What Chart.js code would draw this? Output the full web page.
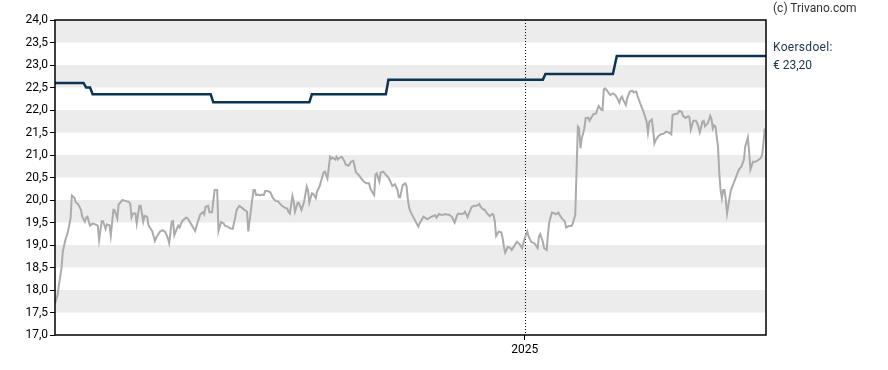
<!DOCTYPE html>
<html>
<head>
<meta charset="utf-8">
<script src="https://cdn.jsdelivr.net/npm/chart.js@4.4.0/dist/chart.umd.min.js"></script>
<style>
    body { margin: 0; background: #fff; }
    #wrap { position: relative; width: 888px; height: 370px; }
    .zijtekst { position: absolute; left: 773px; font: 12px Roboto, sans-serif; color: #333; white-space: nowrap; }
</style>
</head>
<body>
<div id="wrap">
    <canvas id="myChart"></canvas>
    <div class="zijtekst" style="top:1px">(c) Trivano.com</div>
    <div class="zijtekst" style="top:40px;color:#22384d;letter-spacing:0.3px">Koersdoel:</div>
    <div class="zijtekst" style="top:58px;color:#22384d">€ 23,20</div>
</div>
<script>
    // dagen sinds begin van de grafiek
    const koersDagen = [
        0, 2, 3, 5, 6, 8, 10, 12, 13, 15, 16, 18, 20, 21, 23, 24, 25, 27, 29, 31, 33, 34, 36, 37, 39, 40, 42, 43, 45, 46,
        48, 49, 52, 54, 57, 58, 59, 60, 62, 63, 65, 66, 68, 69, 71, 72, 75, 77, 78, 81, 83, 85, 87, 88, 90, 91, 92, 94, 95, 96,
        98, 101, 102, 104, 106, 108, 110, 112, 114, 115, 116, 118, 119, 121, 123, 125, 126, 128, 130, 131, 133, 135, 137, 139, 140, 142, 144, 146, 148, 149,
        151, 153, 154, 155, 157, 158, 160, 161, 162, 164, 166, 168, 170, 172, 173, 175, 177, 179, 180,
        181, 183, 184, 185, 187, 188, 190, 192, 194, 195, 196, 198, 199, 201, 202, 204, 205, 207, 208, 210, 212, 213, 214, 216, 217, 218, 219, 221, 223, 224,
        226, 227, 228, 230, 231, 232, 234, 236, 238, 240, 242, 243, 245, 246, 247, 248, 250, 251, 253, 255, 257, 258, 260, 262, 264, 265, 266, 268, 270, 271, 272,
        273, 274, 276, 278, 280, 281, 284, 285, 287, 289, 291, 293, 294, 296, 297, 299, 301, 303, 304, 306, 308, 310, 311, 313, 315, 316, 318, 319, 321, 323,
        325, 327, 328, 330, 331, 333, 335, 337, 338, 339, 340, 342, 344, 345, 346, 347, 349, 351, 352, 354, 356, 358, 359, 360, 362,
        364, 365, 367, 369, 370, 372, 373, 374, 376, 377, 379, 380, 381, 383, 385, 386, 388, 389, 391, 393, 394, 396, 398, 399, 401, 402, 403, 404, 405, 406,
        408, 409, 411, 412, 414, 415, 417, 418, 419, 421, 422, 423, 424, 426, 428, 429, 430, 432, 433, 435, 436, 437, 438, 440, 441, 443, 445, 446, 448, 449, 451,
        454, 456, 457, 458, 460, 461, 462, 463, 465, 467, 469, 471, 473, 475, 476, 478, 480, 481, 483, 484, 486, 488, 489, 490, 492, 494, 495, 496, 497, 499,
        500, 501, 503, 504, 505, 506, 507, 508, 509, 511, 512, 513, 514, 515, 516, 517, 518, 520, 521, 523, 525, 527, 529, 531, 532, 534, 535, 536, 538, 540,
        542, 544, 545, 546, 547
    ];
    const koersen = [
        17.70, 17.89, 18.11, 18.48, 18.85, 19.11, 19.30, 19.59, 20.10, 20.05, 19.95, 19.90, 19.78, 19.63, 19.52, 19.61, 19.63, 19.43, 19.48, 19.46,
        19.43, 19.11, 19.53, 19.53, 19.36, 19.46, 19.44, 19.21, 19.78, 19.77, 19.59, 19.90, 20.00, 19.98, 19.96, 19.92, 19.62, 19.70, 19.70, 19.48,
        19.87, 19.87, 19.52, 19.65, 19.63, 19.44, 19.30, 19.09, 19.16, 19.30, 19.33, 19.29, 19.15, 19.04, 19.52, 19.53, 19.22, 19.37, 19.43, 19.39,
        19.53, 19.61, 19.60, 19.51, 19.41, 19.31, 19.51, 19.68, 19.73, 19.68, 19.85, 19.87, 19.73, 19.73, 20.22, 20.22, 19.31, 19.51, 19.48, 19.43,
        19.41, 19.37, 19.36, 19.63, 19.78, 19.87, 19.83, 19.78, 19.74, 19.30, 19.78, 20.22, 20.22, 20.11, 20.12, 20.10, 20.12, 20.11, 20.20, 20.20,
        20.17, 20.04, 19.98, 19.97, 19.93, 19.87, 19.83, 19.81, 19.73,
        19.70, 20.09, 19.96, 19.74, 19.94, 19.93, 19.78, 19.96, 20.30, 20.22, 19.94, 20.15, 20.14, 20.04, 20.19, 20.31, 20.41, 20.61, 20.63, 20.48,
        20.96, 20.92, 20.94, 20.90, 20.96, 20.90, 20.93, 20.96, 20.87, 20.79, 20.76, 20.79, 20.85, 20.87, 20.74, 20.61, 20.56, 20.48, 20.41, 20.37,
        20.37, 20.26, 20.15, 20.11, 20.56, 20.59, 20.41, 20.61, 20.63, 20.56, 20.50, 20.44, 20.31, 20.35, 20.22, 20.06, 20.06, 20.33, 20.37, 20.30, 20.00,
        19.82, 19.74, 19.63, 19.52, 19.41, 19.48, 19.63, 19.61, 19.57, 19.61, 19.64, 19.66, 19.61, 19.69, 19.67, 19.67, 19.69, 19.67, 19.67, 19.62,
        19.50, 19.67, 19.70, 19.69, 19.70, 19.74, 19.62, 19.70, 19.84, 19.87, 19.87, 19.91, 19.85, 19.79, 19.79, 19.70, 19.64, 19.69, 19.67, 19.52,
        19.20, 19.30, 19.28, 19.15, 18.96, 18.83, 18.96, 18.93, 18.89, 18.98, 19.07, 19.02, 18.98, 18.93, 19.15,
        19.30, 19.19, 19.07, 19.04, 19.02, 18.93, 19.19, 19.24, 19.07, 18.93, 18.89, 19.26, 19.52, 19.72, 19.70, 19.68, 19.72, 19.66, 19.58, 19.52,
        19.39, 19.42, 19.42, 19.47, 19.67, 20.67, 21.63, 21.59, 21.15, 21.37, 21.59, 21.82, 21.83, 21.76, 21.86, 21.91, 21.92, 22.01, 22.09, 22.01,
        22.00, 22.46, 22.48, 22.41, 22.33, 22.35, 22.37, 22.33, 22.28, 22.16, 22.26, 22.30, 22.22, 22.11, 22.26, 22.41, 22.43, 22.39, 22.41, 22.31, 22.15,
        21.93, 21.74, 21.50, 21.74, 21.79, 21.56, 21.26, 21.33, 21.42, 21.46, 21.47, 21.52, 21.50, 21.46, 21.89, 21.91, 21.92, 21.98, 21.96, 21.87,
        21.82, 21.86, 21.84, 21.56, 21.76, 21.76, 21.70, 21.62, 21.50, 21.74, 21.76, 21.64, 21.70, 21.77, 21.87, 21.80, 21.59, 21.66, 21.64, 21.19,
        20.59, 20.22, 20.04, 20.22, 20.22, 20.01, 19.70, 20.07, 20.22, 20.37, 20.52, 20.67, 20.74, 20.90, 21.19, 21.39, 21.07, 20.68, 20.85, 20.85,
        20.89, 20.93, 21.00, 21.26, 21.59
    ];
    const doelDagen = [0, 22, 24, 27, 29, 120, 122, 196, 198, 255, 257, 376, 378, 430, 433, 548];
    const doelKoersen = [22.6, 22.6, 22.5, 22.5, 22.35, 22.35, 22.17, 22.17, 22.35, 22.35, 22.67, 22.67, 22.8, 22.8, 23.2, 23.2];
    const jaarDag = 362;
    const jaarLabel = '2025';
    const laatsteDag = 548;

    Chart.defaults.font.family = 'Roboto, sans-serif';
    Chart.defaults.font.size = 12;
    Chart.defaults.color = '#000';

    const banden = {
        id: 'banden',
        beforeDraw(chart) {
            const ctx = chart.ctx, area = chart.chartArea, y = chart.scales.y;
            ctx.save();
            ctx.fillStyle = '#ececec';
            for (let v = 24; v > 17; v -= 1) {
                const top = y.getPixelForValue(v), bot = y.getPixelForValue(v - 0.5);
                ctx.fillRect(area.left, top, area.right - area.left, bot - top);
            }
            ctx.restore();
        },
        beforeDatasetsDraw(chart) {
            const ctx = chart.ctx, area = chart.chartArea;
            const x = Math.round(chart.scales.x.getPixelForValue(jaarDag)) + 0.5;
            ctx.save();
            ctx.strokeStyle = '#000';
            ctx.lineWidth = 1;
            ctx.setLineDash([1, 2]);
            ctx.beginPath();
            ctx.moveTo(x, area.top);
            ctx.lineTo(x, area.bottom);
            ctx.stroke();
            ctx.restore();
        },
        afterDraw(chart) {
            const ctx = chart.ctx, area = chart.chartArea;
            ctx.save();
            ctx.strokeStyle = '#000';
            ctx.lineWidth = 1.5;
            ctx.strokeRect(area.left, area.top, area.right - area.left, area.bottom - area.top);
            ctx.restore();
        }
    };

    const ctx = document.getElementById('myChart').getContext('2d');
    const myChart = new Chart(ctx, {
        type: 'line',
        data: {
            datasets: [{
                label: 'Koersdoel',
                data: doelDagen.map((d, i) => ({x: d, y: doelKoersen[i]})),
                borderColor: '#0b3552',
                borderWidth: 2.5,
                pointRadius: 0,
                tension: 0
            }, {
                label: 'Koers',
                data: koersDagen.map((d, i) => ({x: d, y: koersen[i]})),
                borderColor: '#ababab',
                borderWidth: 2,
                pointRadius: 0,
                tension: 0
            }]
        },
        options: {
            responsive: true,
            maintainAspectRatio: false,
            animation: false,
            layout: {padding: {top: 20, right: 122, left: 0, bottom: 0}},
            plugins: {legend: {display: false}, tooltip: {enabled: false}},
            scales: {
                x: {
                    type: 'linear',
                    min: 0,
                    max: laatsteDag,
                    afterBuildTicks: (scale) => { scale.ticks = [{value: jaarDag}]; },
                    afterFit: (scale) => { scale.height = 35; },
                    ticks: {callback: () => jaarLabel, maxRotation: 0, autoSkip: false, padding: 3},
                    grid: {drawOnChartArea: false, drawTicks: true, tickLength: 5, color: '#000'},
                    border: {display: false}
                },
                y: {
                    min: 17,
                    max: 24,
                    afterFit: (scale) => { scale.width = 55; },
                    ticks: {stepSize: 0.5, padding: 2, callback: (v) => v.toFixed(1).replace('.', ',')},
                    grid: {drawOnChartArea: false, drawTicks: true, tickLength: 5, color: '#000'},
                    border: {display: false}
                }
            }
        },
        plugins: [banden]
    });
</script>
</body>
</html>
